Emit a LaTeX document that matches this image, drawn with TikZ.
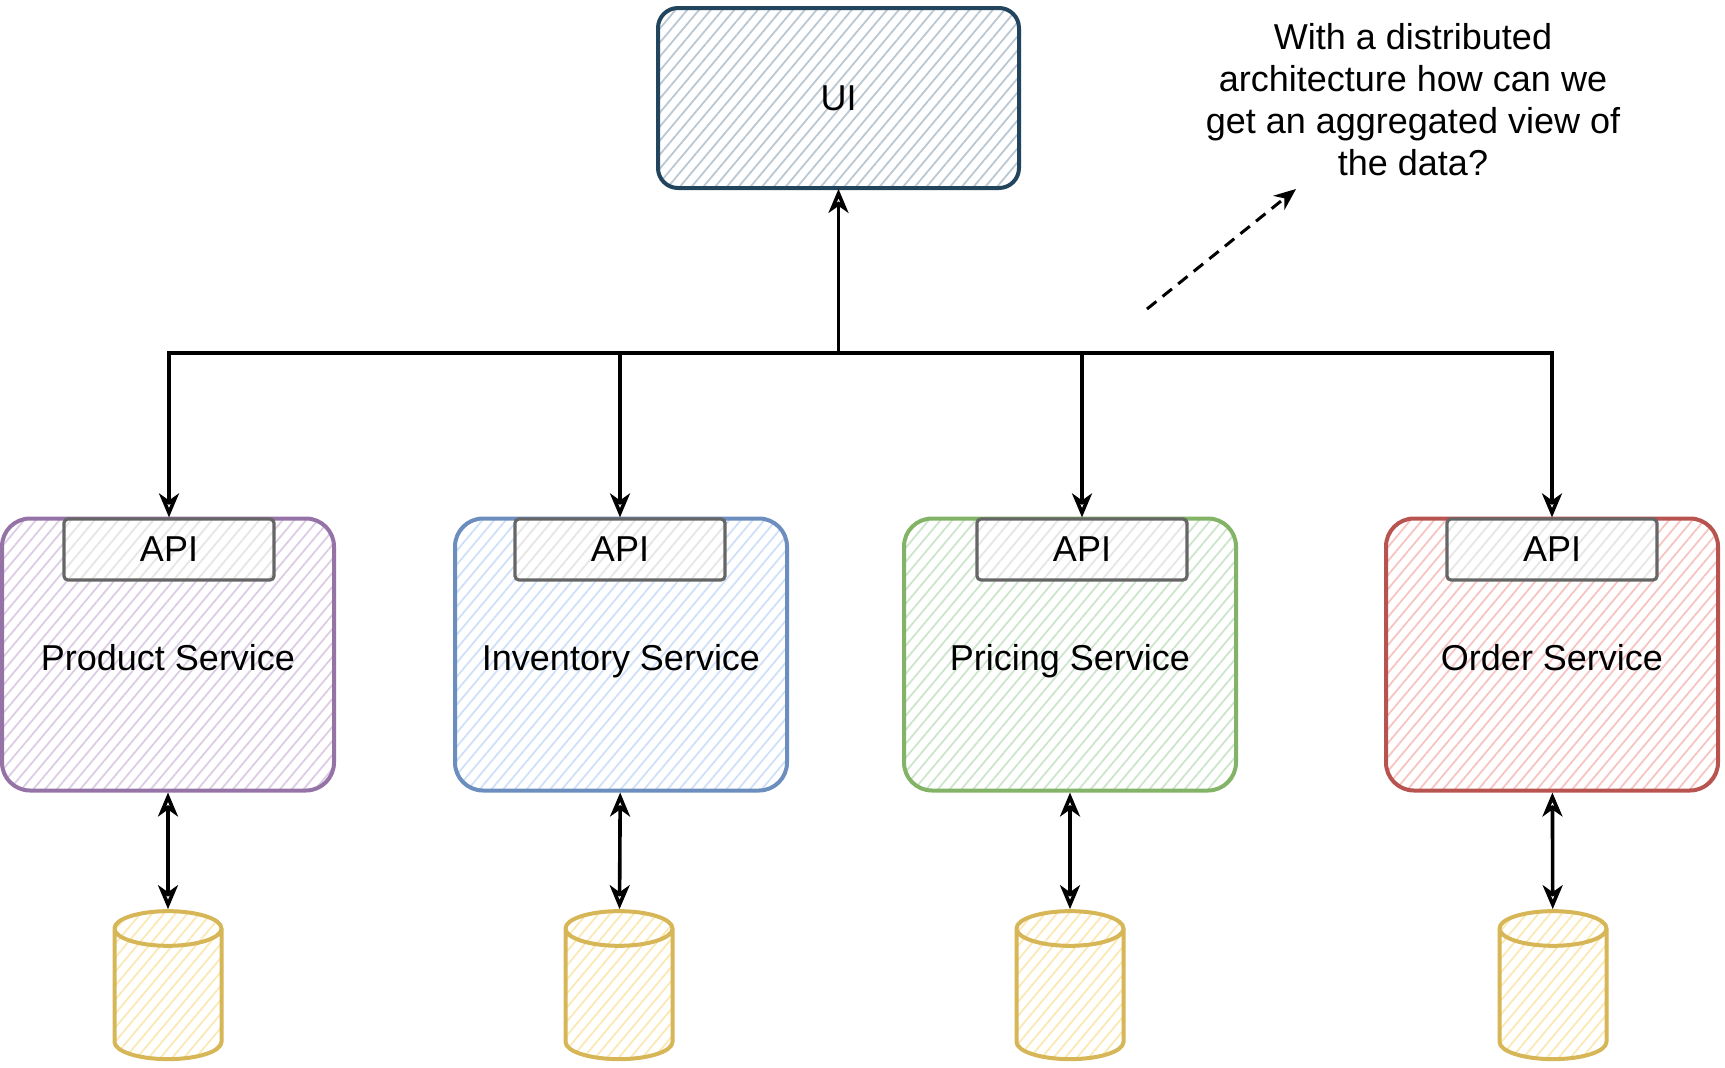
\documentclass[tikz,border=0pt]{standalone}
\usepackage{fontspec}
\setmainfont{Liberation Sans}
\usetikzlibrary{arrows.meta, patterns.meta, shapes.geometric}

\definecolor{uiline}{HTML}{23445D}
\definecolor{uihatch}{HTML}{BAC8D3}
\definecolor{prodline}{HTML}{9673A6}
\definecolor{prodhatch}{HTML}{DCCDE4}
\definecolor{invline}{HTML}{6C8EBF}
\definecolor{invhatch}{HTML}{CFE0F8}
\definecolor{priline}{HTML}{82B366}
\definecolor{prihatch}{HTML}{CDE5CB}
\definecolor{ordline}{HTML}{B85450}
\definecolor{ordhatch}{HTML}{F6C4C2}
\definecolor{apiline}{HTML}{666666}
\definecolor{apihatch}{HTML}{E6E6E6}
\definecolor{dbline}{HTML}{D6B656}
\definecolor{dbhatch}{HTML}{FAE9B4}

\begin{document}
\begin{tikzpicture}[x=0.5pt, y=-0.5pt,
  font=\fontsize{18}{21}\selectfont,
  hatch/.style={pattern={Lines[angle=50, distance=4.5pt, line width=0.9pt]}, pattern color=#1},
  svcbox/.style={draw, line width=2pt, rounded corners=14pt, text height=18pt, text depth=2pt,
    minimum width=166pt, minimum height=136pt},
  apibox/.style={draw=apiline, line width=1.6pt, rounded corners=2pt,
    minimum width=105pt, minimum height=30.5pt, preaction={fill=white}, hatch=apihatch},
  dbase/.style={cylinder, shape border rotate=90, aspect=2.6, draw=dbline,
    line width=2pt, minimum width=53.5pt, minimum height=74pt, hatch=dbhatch},
  link/.style={line width=1.8pt, -{Stealth[open, length=12pt, width=10pt, inset=3.5pt]}},
  twoway/.style={line width=1.8pt,
    {Stealth[open, length=12pt, width=10pt, inset=3.5pt]}-{Stealth[open, length=12pt, width=10pt, inset=3.5pt]}}
]
\useasboundingbox (0,0) rectangle (1725,1067);

\node[draw=uiline, line width=2pt, rounded corners=10pt, hatch=uihatch,
  minimum width=180.5pt, minimum height=90pt] (ui) at (838.5,98) {UI};

\node[svcbox, draw=prodline, hatch=prodhatch] (prod) at (168,654.5) {Product Service};
\node[svcbox, draw=invline, hatch=invhatch] (inv) at (621,654.5) {Inventory Service};
\node[svcbox, draw=priline, hatch=prihatch] (pri) at (1070,654.5) {Pricing Service};
\node[svcbox, draw=ordline, hatch=ordhatch] (ord) at (1552,654.5) {Order Service};

\node[apibox] (prodapi) at (169,549.5) {API};
\node[apibox] (invapi) at (620,549.5) {API};
\node[apibox] (priapi) at (1082,549.5) {API};
\node[apibox] (ordapi) at (1552,549.5) {API};

\node[dbase] (proddb) at (168,999) {};
\node[dbase] (invdb) at (619,999) {};
\node[dbase] (pridb) at (1070,999) {};
\node[dbase] (orddb) at (1553,999) {};

\node[align=center] (note) at (1413,99.5)
  {With a distributed\\architecture how can we\\get an aggregated view of\\the data?};

\coordinate (bus) at (838.5,353);
\coordinate (hintfrom) at (1147,309);
\coordinate (hintto) at (1296,189);

\draw[link] (bus) -- (ui);
\draw[link] (bus) -| (prodapi);
\draw[link] (bus) -| (invapi);
\draw[link] (bus) -| (priapi);
\draw[link] (bus) -| (ordapi);

\draw[twoway] (prod) -- (proddb);
\draw[twoway] (inv) -- (invdb);
\draw[twoway] (pri) -- (pridb);
\draw[twoway] (ord) -- (orddb);

\draw[line width=1.5pt, dashed, dash pattern=on 6pt off 4pt, -{Stealth[length=11pt, width=9pt]}] (hintfrom) -- (hintto);
\end{tikzpicture}
\end{document}
